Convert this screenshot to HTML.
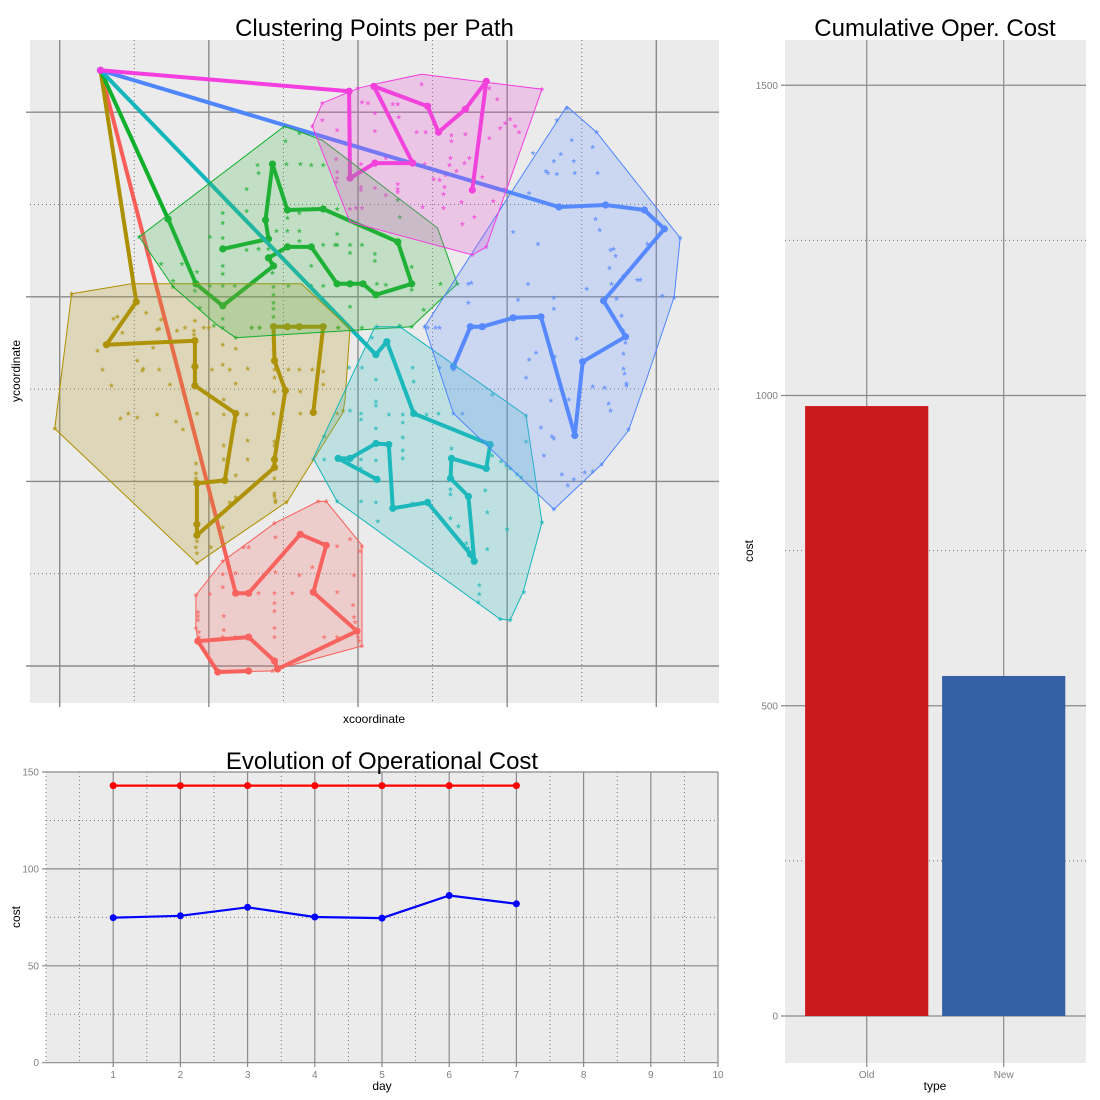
<!DOCTYPE html>
<html lang="en">
<head>
<meta charset="utf-8">
<title>Clustering Points per Path</title>
<style>
html,body{margin:0;padding:0;background:#fff;}
svg{display:block;font-family:"Liberation Sans",Arial,sans-serif;}
</style>
</head>
<body>
<svg id="chart" xmlns="http://www.w3.org/2000/svg" width="1100" height="1100" viewBox="0 0 1100 1100"></svg>
<script>
/* ---------- Cluster map data (arbitrary map units) ---------- */
const mapXTicks = [0, 150, 300, 450, 600];
const mapYTicks = [0, 185, 370, 555];
const mapXMinor = [75, 225, 375, 525];
const mapYMinor = [92.5, 277.5, 462.5];
const depot = [41, 597];

const clusterNames = ['red', 'olive', 'green', 'teal', 'blue', 'pink'];

const routeRed = [[177,73],[190,73],[242,132],[268,121],[255,74],[299,35],[219,-3],[216,5],[190,29],[139,25],[159,-6],[190,-5]];
const routeOlive = [[77,365],[47,322],[136,326],[136,300],[136,281],[177,253],[166,186],[138,183],[138,142],[138,131],[216,199],[216,207],[227,276],[216,306],[215,340],[229,340],[241,340],[265,340],[255,254]];
const routeGreen = [[109,448],[137,383],[164,361],[215,401],[210,409],[229,420],[253,420],[279,383],[292,383],[305,383],[318,372],[354,383],[340,425],[265,458],[229,457],[214,503],[207,447],[210,428],[164,418]];
const routeTeal = [[318,312],[329,325],[356,253],[433,222],[429,198],[394,208],[393,188],[411,170],[417,105],[413,112],[370,164],[335,158],[331,222],[318,223],[292,208],[280,208],[319,187]];
const routeBlue = [[502,460],[549,462],[588,457],[608,438],[547,366],[569,330],[526,305],[518,231],[484,350],[456,349],[425,340],[413,340],[396,300]];
const routePink = [[291,576],[292,489],[317,504],[355,504],[316,581],[370,561],[381,535],[408,558],[429,586],[415,477]];

const hullRed = [[260,165],[268,165],[304,121],[304,20],[219,-3],[214,-5],[159,-6],[139,25],[137,39],[137,71],[164,105],[216,143]];
const hullOlive = [[12,373],[72,383],[243,383],[292,338],[287,268],[285,254],[229,165],[138,103],[-5,238]];
const hullGreen = [[226,541],[264,527],[380,439],[400,383],[354,340],[177,329],[158,342],[114,380],[80,430]];
const hullTeal = [[342,340],[469,251],[485,144],[466,74],[453,46],[443,47],[279,165],[255,208],[317,340]];
const hullBlue = [[510,561],[540,535],[624,429],[618,370],[590,287],[572,236],[545,202],[497,157],[396,253],[367,340]];
const hullPink = [[264,564],[300,579],[316,583],[364,593],[485,578],[429,420],[415,412],[292,445],[254,541]];

const starsRed = [[260,165],[268,165],[216,143],[217,129],[292,127],[279,120],[304,120],[302,115],[185,119],[190,119],[164,105],[254,99],[217,94],[177,93],[164,92],[241,91],[296,91],[164,79],[151,72],[137,71],[200,73],[216,73],[234,73],[279,74],[216,63],[295,61],[216,55],[139,54],[139,50],[139,46],[165,50],[296,49],[297,44],[137,38],[216,38],[165,36],[140,34],[140,29],[164,29],[177,29],[216,29],[266,29],[279,29],[300,29],[301,25],[304,20],[214,-5],[164,-6],[159,-6]];
const starsOlive = [[74,380],[12,373],[87,354],[54,348],[58,350],[102,347],[63,334],[98,337],[100,338],[118,336],[126,339],[136,346],[135,336],[135,332],[145,339],[150,339],[164,322],[177,318],[38,316],[94,319],[78,306],[43,297],[84,298],[83,296],[100,297],[153,297],[164,302],[171,297],[189,298],[216,297],[230,297],[241,297],[254,297],[265,295],[280,339],[215,327],[215,317],[216,289],[193,339],[201,339],[52,281],[111,282],[177,283],[265,282],[165,267],[216,275],[242,275],[285,256],[279,253],[61,248],[69,253],[78,249],[98,252],[117,245],[124,237],[138,253],[165,252],[177,245],[188,252],[215,253],[242,253],[-5,238],[189,226],[165,221],[216,225],[216,221],[189,207],[165,207],[266,230],[137,203],[137,193],[137,188],[177,191],[216,188],[177,169],[171,164],[153,164],[216,173],[216,170],[217,166],[217,164],[228,164],[164,139],[138,125],[137,119],[152,119],[138,113],[138,103],[165,120]];
const starsGreen = [[226,541],[227,526],[241,534],[199,502],[200,494],[228,503],[242,503],[253,502],[265,502],[188,478],[188,456],[164,454],[164,444],[241,454],[229,449],[254,458],[279,458],[151,430],[164,429],[218,436],[229,436],[241,436],[279,433],[241,426],[265,422],[277,422],[279,422],[292,422],[304,422],[292,414],[317,413],[317,406],[188,417],[200,418],[210,418],[253,401],[102,403],[123,403],[138,395],[164,401],[164,393],[214,394],[114,386],[114,380],[136,376],[151,381],[164,381],[176,381],[215,380],[230,381],[253,381],[265,381],[319,383],[141,359],[215,372],[215,364],[215,358],[215,350],[164,348],[292,360],[164,339],[155,341],[193,339],[201,339],[280,339],[304,339],[177,329],[342,450],[340,467],[354,400],[328,382],[354,377],[383,383],[400,383],[366,357],[354,340],[342,341],[80,430]];
const starsTeal = [[318,287],[356,285],[318,265],[318,261],[331,252],[345,252],[345,244],[369,252],[381,253],[318,238],[345,229],[345,216],[345,208],[318,206],[435,272],[469,251],[469,225],[394,218],[435,211],[444,205],[449,201],[453,198],[460,192],[464,189],[393,177],[393,172],[428,176],[318,164],[355,163],[393,148],[430,154],[401,140],[320,145],[450,137],[485,144],[409,123],[411,118],[430,117],[417,103],[422,81],[422,72],[421,64],[467,74],[443,47],[453,46],[292,256],[303,253],[303,247],[266,230],[266,207],[255,207],[303,207],[303,198],[279,165],[303,165],[314,329],[319,340],[304,299],[291,299],[355,299],[342,340]];
const starsBlue = [[510,559],[500,547],[540,535],[515,527],[536,520],[476,514],[504,513],[497,506],[517,506],[489,496],[491,494],[500,493],[518,494],[541,494],[472,474],[539,448],[543,437],[456,435],[481,423],[591,423],[624,429],[554,417],[557,418],[559,411],[553,399],[567,391],[581,387],[584,387],[555,383],[471,383],[411,383],[414,384],[530,378],[461,367],[497,369],[560,368],[606,371],[618,369],[411,364],[497,358],[565,351],[567,336],[569,324],[520,328],[479,314],[498,310],[472,307],[567,313],[567,298],[568,293],[469,289],[367,340],[370,339],[378,339],[382,339],[382,299],[494,266],[512,267],[536,280],[548,279],[570,283],[570,281],[552,263],[554,256],[484,239],[495,230],[497,228],[487,211],[572,237],[545,202],[536,195],[528,194],[505,192],[517,187],[511,181],[497,157],[396,253],[405,253],[396,297]];
const starsPink = [[278,508],[279,495],[279,489],[278,485],[303,503],[303,480],[303,477],[317,479],[264,547],[279,537],[292,537],[317,536],[304,565],[310,564],[317,554],[292,458],[298,459],[304,459],[335,563],[340,563],[341,550],[359,535],[368,535],[364,583],[432,579],[440,568],[394,532],[394,526],[408,533],[432,529],[443,539],[448,544],[453,548],[458,541],[462,535],[393,509],[392,502],[407,504],[412,509],[399,496],[388,492],[376,488],[382,487],[387,480],[386,473],[425,490],[447,478],[436,466],[404,465],[386,459],[365,460],[328,509],[367,503],[340,483],[340,478],[340,475],[328,472],[417,450],[405,443],[415,412],[429,420],[485,578],[254,541],[264,564],[300,579]];

const routes = [routeRed, routeOlive, routeGreen, routeTeal, routeBlue, routePink];
const hulls = [hullRed, hullOlive, hullGreen, hullTeal, hullBlue, hullPink];
const stars = [starsRed, starsOlive, starsGreen, starsTeal, starsBlue, starsPink];

/* ---------- Evolution chart data ---------- */
const days = [1, 2, 3, 4, 5, 6, 7];
const oldDailyCost = [143, 143, 143, 143, 143, 143, 143];
const newDailyCost = [74.8, 75.8, 80.2, 75.2, 74.6, 86.3, 82];
const evoXTicks = [1, 2, 3, 4, 5, 6, 7, 8, 9, 10];
const evoXMinor = [0, 0.5, 1.5, 2.5, 3.5, 4.5, 5.5, 6.5, 7.5, 8.5, 9.5];
const evoYTicks = [0, 50, 100, 150];
const evoYMinor = [25, 75, 125];

/* ---------- Cumulative bar chart data ---------- */
const barTypes = ['Old', 'New'];
const barCosts = [983, 548];
const barYTicks = [0, 500, 1000, 1500];
const barYMinor = [250, 750, 1250];

/* ---------- Styling ---------- */
const lineColors = ['#F95F58', '#AC9000', '#10AF2C', '#13B6BA', '#4F85FF', '#F53EDF'];
const hullColors = ['#F47070', '#B3971F', '#48B850', '#3CC0C0', '#6C98FF', '#E854D4'];
const PANEL = '#EBEBEB', GRID = '#8A8A8A', MINOR = '#777777', TICKTXT = '#7F7F7F';

const NS = 'http://www.w3.org/2000/svg';
const svg = document.getElementById('chart');
function make(tag, parent) {
  const e = document.createElementNS(NS, tag);
  parent.appendChild(e);
  return e;
}
function rect(parent, x, y, w, h, fill) {
  const r = make('rect', parent);
  r.setAttribute('x', x); r.setAttribute('y', y);
  r.setAttribute('width', w); r.setAttribute('height', h);
  r.setAttribute('fill', fill);
  return r;
}
function line(parent, x1, y1, x2, y2, stroke, width, dash) {
  const l = make('line', parent);
  l.setAttribute('x1', x1); l.setAttribute('y1', y1);
  l.setAttribute('x2', x2); l.setAttribute('y2', y2);
  l.setAttribute('stroke', stroke); l.setAttribute('stroke-width', width);
  if (dash) l.setAttribute('stroke-dasharray', dash);
  return l;
}
function label(parent, x, y, str, size, fill, anchor, rotate) {
  const t = make('text', parent);
  t.setAttribute('x', x); t.setAttribute('y', y);
  t.setAttribute('font-size', size); t.setAttribute('fill', fill);
  t.setAttribute('text-anchor', anchor);
  if (rotate) t.setAttribute('transform', 'rotate(-90 ' + x + ' ' + y + ')');
  t.textContent = str;
  return t;
}
function pts(list, fx, fy) {
  return list.map(function (p) { return fx(p[0]).toFixed(1) + ',' + fy(p[1]).toFixed(1); }).join(' ');
}

/* ---------- Cluster map panel ---------- */
const mapX = function (v) { return 59.7 + v * 149.15 / 150; };
const mapY = function (v) { return 666 - v * 184.6 / 185; };
const mapG = make('g', svg);


const mapBg = rect(mapG, 30, 40, 689, 663, PANEL);


mapXMinor.forEach(function (v) {
  const g = line(mapG, mapX(v), 40, mapX(v), 703, MINOR, 1, '1 3');
  
  
});
mapYMinor.forEach(function (v) {
  const g = line(mapG, 30, mapY(v), 719, mapY(v), MINOR, 1, '1 3');
  
  
});
mapXTicks.forEach(function (v) {
  const g = line(mapG, mapX(v), 40, mapX(v), 707, GRID, 1.4);
  
  
});
mapYTicks.forEach(function (v) {
  const g = line(mapG, 26, mapY(v), 719, mapY(v), GRID, 1.4);
  
  
});

function starPoints(cx, cy) {
  const out = [];
  for (let i = 0; i < 10; i++) {
    const r = i % 2 === 0 ? 2.8 : 1.2;
    const a = -Math.PI / 2 + i * Math.PI / 5;
    out.push((cx + r * Math.cos(a)).toFixed(1) + ',' + (cy + r * Math.sin(a)).toFixed(1));
  }
  return out.join(' ');
}

clusterNames.forEach(function (name, i) {
  stars[i].forEach(function (p) {
    const s = make('polygon', mapG);
    s.setAttribute('points', starPoints(mapX(p[0]), mapY(p[1])));
    s.setAttribute('fill', lineColors[i]);
    s.setAttribute('opacity', '0.75');
    
    
  });
});
clusterNames.forEach(function (name, i) {
  const path = [depot].concat(routes[i]);
  const r = make('polyline', mapG);
  r.setAttribute('points', pts(path, mapX, mapY));
  r.setAttribute('fill', 'none');
  r.setAttribute('stroke', lineColors[i]);
  r.setAttribute('stroke-width', '4');
  r.setAttribute('stroke-linejoin', 'round');
  
  
  path.forEach(function (p) {
    const c = make('circle', mapG);
    c.setAttribute('cx', mapX(p[0]).toFixed(1));
    c.setAttribute('cy', mapY(p[1]).toFixed(1));
    c.setAttribute('r', '3.6');
    c.setAttribute('fill', lineColors[i]);
    
    
  });
});
clusterNames.forEach(function (name, i) {
  const h = make('polygon', mapG);
  h.setAttribute('points', pts(hulls[i], mapX, mapY));
  h.setAttribute('fill', hullColors[i]);
  h.setAttribute('fill-opacity', '0.25');
  h.setAttribute('stroke', lineColors[i]);
  h.setAttribute('stroke-width', '1');
  
  
});

const mapTitle = label(svg, 374.5, 36, 'Clustering Points per Path', 24, '#000', 'middle');


const mapXTitle = label(svg, 374, 723, 'xcoordinate', 12, '#000', 'middle');


const mapYTitle = label(svg, 20, 371, 'ycoordinate', 12, '#000', 'middle', true);



/* ---------- Evolution panel ---------- */
const evoX = function (v) { return 46 + v * 67.2; };
const evoY = function (v) { return 1062.7 - v * 1.938; };
const evoG = make('g', svg);


const evoBg = rect(evoG, 46, 772, 672, 291, PANEL);


evoXMinor.forEach(function (v) {
  const g = line(evoG, evoX(v), 772, evoX(v), 1063, MINOR, 1, '1 3');
  
  
});
evoYMinor.forEach(function (v) {
  const g = line(evoG, 46, evoY(v), 718, evoY(v), MINOR, 1, '1 3');
  
  
});
evoXTicks.forEach(function (v) {
  const g = line(evoG, evoX(v), 772, evoX(v), 1067, GRID, 1.2);
  
  
  const t = label(evoG, evoX(v), 1078, String(v), 10, TICKTXT, 'middle');
  
  
});
evoYTicks.forEach(function (v) {
  const g = line(evoG, 42, evoY(v), 718, evoY(v), GRID, 1.2);
  
  
  const t = label(evoG, 39, evoY(v) + 3.5, String(v), 10, TICKTXT, 'end');
  
  
});
function evoSeries(values, color, name) {
  const data = days.map(function (d, i) { return [d, values[i]]; });
  const r = make('polyline', evoG);
  r.setAttribute('points', pts(data, evoX, evoY));
  r.setAttribute('fill', 'none');
  r.setAttribute('stroke', color);
  r.setAttribute('stroke-width', '2.2');
  
  
  data.forEach(function (p) {
    const c = make('circle', evoG);
    c.setAttribute('cx', evoX(p[0]).toFixed(1));
    c.setAttribute('cy', evoY(p[1]).toFixed(1));
    c.setAttribute('r', '3.5');
    c.setAttribute('fill', color);
    
    
  });
}
evoSeries(oldDailyCost, '#FF0000', 'old');
evoSeries(newDailyCost, '#0000FF', 'new');

const evoTitle = label(svg, 382, 769, 'Evolution of Operational Cost', 24, '#000', 'middle');


const evoXTitle = label(svg, 382, 1090, 'day', 12, '#000', 'middle');


const evoYTitle = label(svg, 20, 917, 'cost', 12, '#000', 'middle', true);



/* ---------- Bar panel ---------- */
const barX = function (i) { return 866.7 + i * 137; };
const barY = function (v) { return 1016 - v * 0.6205; };
const barG = make('g', svg);


const barBg = rect(barG, 785, 40, 301, 1023, PANEL);


barYMinor.forEach(function (v) {
  const g = line(barG, 785, barY(v), 1086, barY(v), MINOR, 1, '1 3');
  
  
});
barTypes.forEach(function (name, i) {
  const g = line(barG, barX(i), 40, barX(i), 1067, GRID, 1.2);
  
  
  const t = label(barG, barX(i), 1078, name, 10, TICKTXT, 'middle');
  
  
});
barYTicks.forEach(function (v) {
  const g = line(barG, 781, barY(v), 1086, barY(v), GRID, 1.2);
  
  
  const t = label(barG, 778, barY(v) + 3.5, String(v), 10, TICKTXT, 'end');
  
  
});
const barFills = ['#CB1A1E', '#3560A5'];
barTypes.forEach(function (name, i) {
  const b = rect(barG, barX(i) - 61.6, barY(barCosts[i]), 123.2, barY(0) - barY(barCosts[i]), barFills[i]);
  
  
});
const barTitle = label(svg, 935, 36, 'Cumulative Oper. Cost', 24, '#000', 'middle');


const barXTitle = label(svg, 935, 1090, 'type', 12, '#000', 'middle');


const barYTitle = label(svg, 753, 551, 'cost', 12, '#000', 'middle', true);


</script>
</body>
</html>
